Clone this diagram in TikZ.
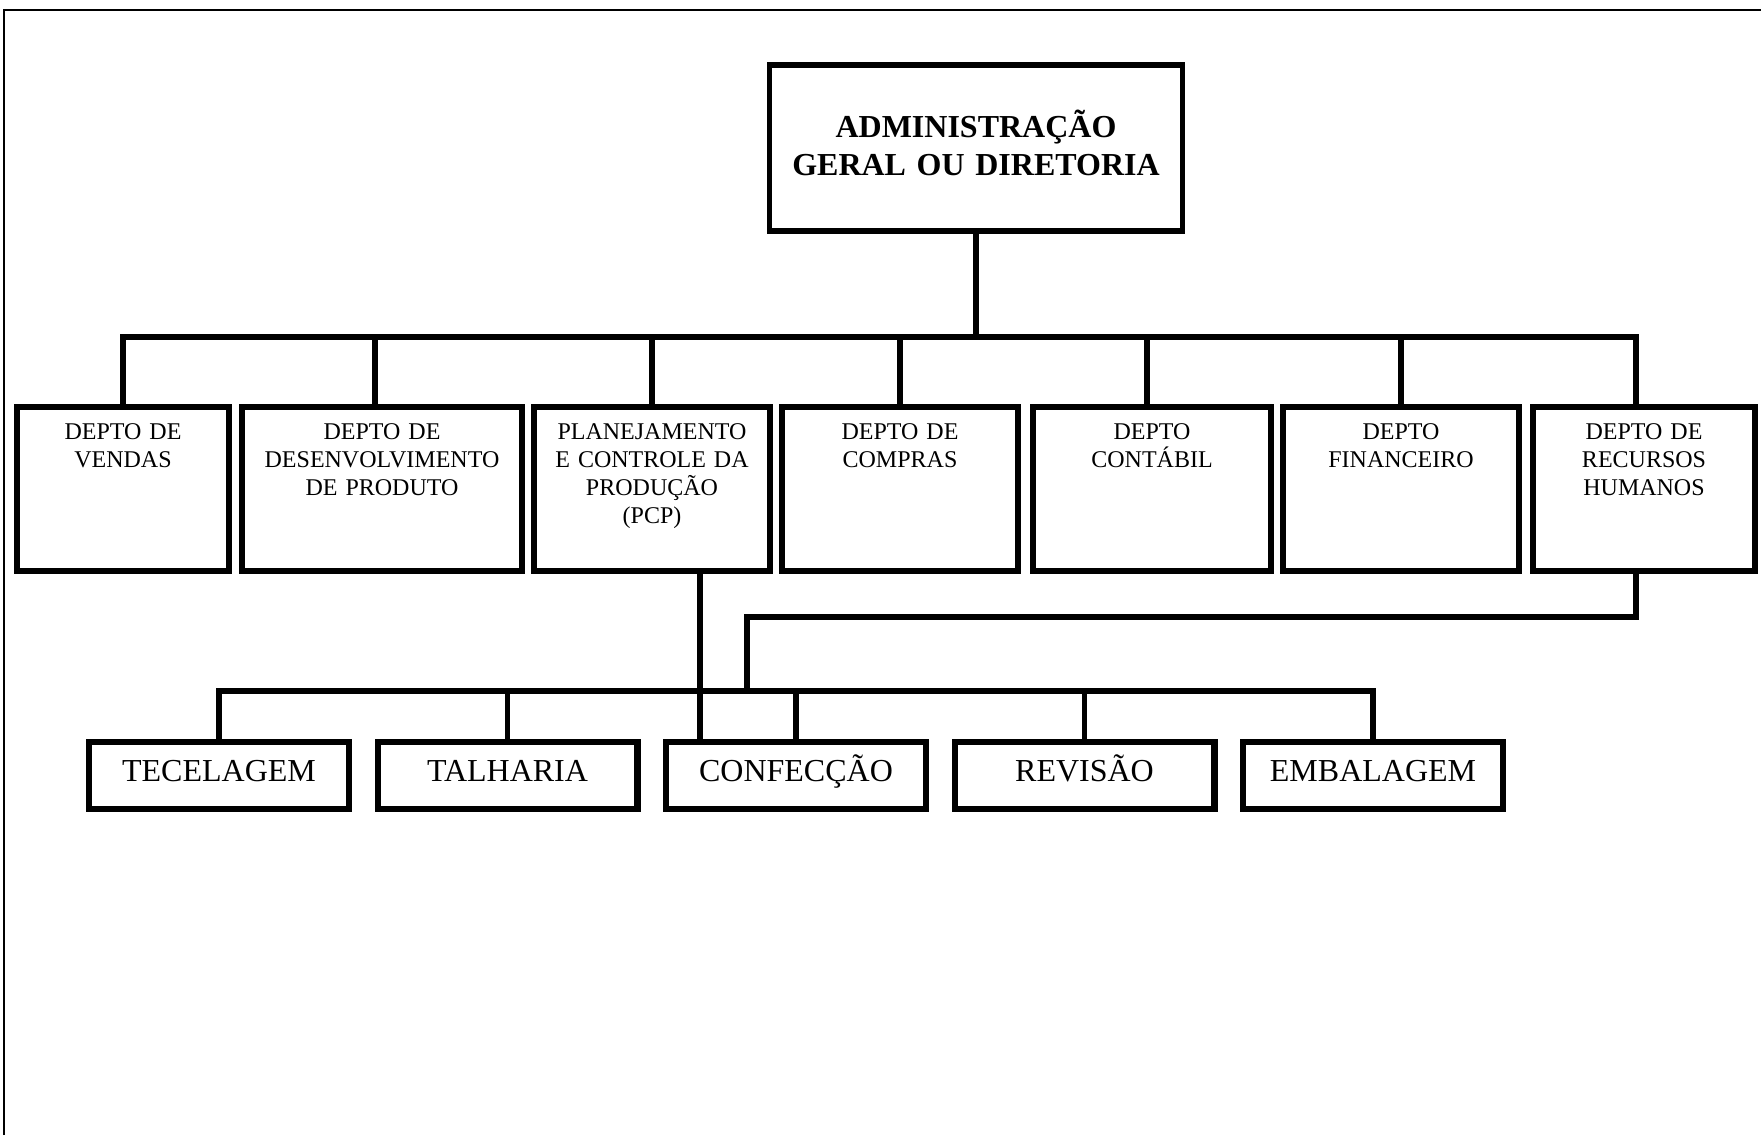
\documentclass[tikz,border=0pt]{standalone}
\usepackage{fontspec}
\setmainfont{Liberation Serif}
\usetikzlibrary{positioning}
\tikzset{
  base/.style={draw=black,line width=2.8pt,align=center,fill=white},
  diretoria/.style={base,font=\fontsize{16}{19}\selectfont\bfseries,text width=200pt,minimum width=203.2pt,minimum height=83.2pt,text height=10.6pt,text depth=21.5pt},
  dept/.style={base,font=\fontsize{12}{14}\selectfont,text width=#1,inner xsep=2pt,inner ysep=8.6pt,minimum height=82.2pt,text height=7.9pt,text depth=57.1pt},
  setor/.style={base,line width=3.2pt,font=\fontsize{16}{19}\selectfont,inner sep=0pt,minimum width=129.8pt,minimum height=33.3pt,text height=10.6pt,text depth=4.5pt},
  link/.style={line width=2.8pt},
  frame/.style={line width=1pt}
}
\begin{document}
\begin{tikzpicture}[x=0.5pt,y=-0.5pt]
\useasboundingbox (0,0) rectangle (1761,1135);
\draw[frame] (3.5,1135) -- (3.5,10) -- (1761,10);

\node[diretoria] (admin) at (976,148) {ADMINISTRAÇÃO\\GERAL OU DIRETORIA};

\node[dept=102.2pt] (vendas) at (123,489) {DEPTO DE\\VENDAS};
\node[dept=136.2pt,right=3.5pt of vendas] (desenv) {DEPTO DE\\DESENVOLVIMENTO\\DE PRODUTO};
\node[dept=114.2pt,right=3pt of desenv] (pcp) {PLANEJAMENTO\\E CONTROLE DA\\PRODUÇÃO\\(PCP)};
\node[dept=114.2pt,right=3pt of pcp] (compras) {DEPTO DE\\COMPRAS};
\node[dept=115.2pt,right=4.5pt of compras] (contabil) {DEPTO\\CONTÁBIL};
\node[dept=114.2pt,right=3pt of contabil] (financeiro) {DEPTO\\FINANCEIRO};
\node[dept=107.2pt,right=4pt of financeiro] (rh) {DEPTO DE\\RECURSOS\\HUMANOS};

\node[setor] (tecelagem) at (219,775.5) {TECELAGEM};
\node[setor,right=11.25pt of tecelagem] (talharia) {TALHARIA};
\node[setor,right=11.25pt of talharia] (confeccao) {CONFECÇÃO};
\node[setor,right=11.25pt of confeccao] (revisao) {REVISÃO};
\node[setor,right=11.25pt of revisao] (embalagem) {EMBALAGEM};

% first level
\coordinate (bus1) at (977,337);
\draw[link] (admin.south) -- (admin.south |- bus1);
\draw[link] (vendas.north) |- (bus1) -| ([xshift=-4pt]rh.north);
\foreach \n/\s in {desenv/-3.5,pcp/0,compras/0,contabil/-2.5,financeiro/0}
  \draw[link] ([xshift=\s pt]\n.north) -- ([xshift=\s pt]\n.north |- bus1);

% second level
\coordinate (bus2) at (747,691);
\coordinate (rhturn) at (747,617);
\draw[link] (tecelagem.north) |- (bus2) -| (embalagem.north);
\foreach \n in {talharia,confeccao,revisao}
  \draw[link] (\n.north) -- (\n.north |- bus2);
\draw[link] ([xshift=-4pt]rh.south) |- (rhturn) -- (bus2);
\draw[link] ([xshift=24pt]pcp.south) -- ([xshift=24pt]pcp.south |- confeccao.north);
\end{tikzpicture}
\end{document}
